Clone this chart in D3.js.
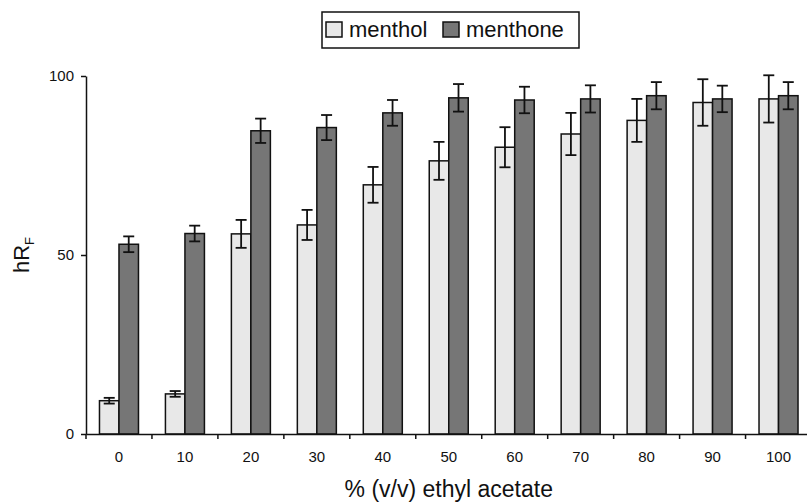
<!DOCTYPE html>
<html>
<head>
<meta charset="utf-8">
<script src="https://cdn.jsdelivr.net/npm/d3@7"></script>
<style>
  body { margin: 0; background: #fff; }
  text { font-family: "Liberation Sans", Arial, sans-serif; fill: #111; }
</style>
</head>
<body>
<div id="chart"></div>
<script>
// data
var categories = ["0", "10", "20", "30", "40", "50", "60", "70", "80", "90", "100"];
var series = ["menthol", "menthone"];
var menthol = [9.3, 11.2, 55.9, 58.4, 69.6, 76.3, 80.1, 83.8, 87.6, 92.6, 93.6];
var mentholErr = [0.8, 0.8, 3.9, 4.2, 5.0, 5.3, 5.6, 5.9, 6.0, 6.5, 6.6];
var menthone = [53.0, 56.0, 84.7, 85.6, 89.7, 93.9, 93.3, 93.6, 94.5, 93.6, 94.5];
var menthoneErr = [2.2, 2.2, 3.4, 3.5, 3.6, 3.85, 3.7, 3.8, 3.8, 3.7, 3.8];
var yTicks = [0, 50, 100];

var colors = {menthol: "#e8e8e8", menthone: "#767676"};

var width = 807, height = 502;
var plotLeft = 86, plotRight = 811.5, plotTop = 76, plotBottom = 434;

var svg = d3.select("#chart")
    .append("svg")
    .attr("width", width)
    .attr("height", height);

var x = d3.scaleBand()
    .domain(categories)
    .range([plotLeft, plotRight])
    .padding(0);

var groupW = 39;
var x1 = d3.scaleBand()
    .domain(series)
    .range([(x.bandwidth() - groupW) / 2, (x.bandwidth() + groupW) / 2]);

var y = d3.scaleLinear()
    .domain([0, 100])
    .range([plotBottom, plotTop]);

// rows for each bar
var rows = [];
categories.forEach(function (c, i) {
    rows.push({cat: c, key: "menthol", v: menthol[i], e: mentholErr[i]});
    rows.push({cat: c, key: "menthone", v: menthone[i], e: menthoneErr[i]});
});

// bars
svg.append("g")
    .selectAll("rect")
    .data(rows)
    .enter().append("rect")
    .attr("x", d => x(d.cat) + x1(d.key))
    .attr("y", d => y(d.v))
    .attr("width", x1.bandwidth())
    .attr("height", d => y(0) - y(d.v))
    .attr("fill", d => colors[d.key])
    .attr("stroke", "#111")
    .attr("stroke-width", 1.5);

// error bars
var capW = 11;
var err = svg.append("g")
    .attr("stroke", "#111")
    .attr("stroke-width", 1.8)
    .selectAll("g")
    .data(rows)
    .enter().append("g")
    .attr("transform", d => "translate(" + (x(d.cat) + x1(d.key) + x1.bandwidth() / 2) + ",0)");

err.append("line")
    .attr("y1", d => y(d.v + d.e))
    .attr("y2", d => y(d.v - d.e));
err.append("line")
    .attr("x1", -capW / 2).attr("x2", capW / 2)
    .attr("y1", d => y(d.v + d.e)).attr("y2", d => y(d.v + d.e));
err.append("line")
    .attr("x1", -capW / 2).attr("x2", capW / 2)
    .attr("y1", d => y(d.v - d.e)).attr("y2", d => y(d.v - d.e));

// y axis
var yAxis = svg.append("g")
    .attr("transform", "translate(" + plotLeft + ",0)")
    .call(d3.axisLeft(y).tickValues(yTicks).tickSize(5).tickSizeOuter(0).tickPadding(7));
yAxis.select(".domain").attr("stroke", "#111").attr("stroke-width", 1.5);
yAxis.selectAll(".tick line").attr("stroke", "#111").attr("stroke-width", 1.5);
yAxis.selectAll("text").style("font-size", "15px").attr("fill", "#111");

// x axis, labels centred in the bands
var xAxis = svg.append("g")
    .attr("transform", "translate(0," + plotBottom + ")")
    .call(d3.axisBottom(x).tickSize(0).tickSizeOuter(0).tickPadding(17));
xAxis.select(".domain").attr("stroke", "#111").attr("stroke-width", 1.5);
xAxis.selectAll("text").style("font-size", "15px").attr("fill", "#111");

// tick marks between categories
xAxis.selectAll(".sep")
    .data(categories)
    .enter().append("line")
    .attr("class", "sep")
    .attr("x1", d => x(d)).attr("x2", d => x(d))
    .attr("y1", 0).attr("y2", 5)
    .attr("stroke", "#111")
    .attr("stroke-width", 1.5);

// axis titles
svg.append("text")
    .attr("x", (plotLeft + plotRight) / 2)
    .attr("y", 497)
    .attr("text-anchor", "middle")
    .style("font-size", "23px")
    .text("% (v/v) ethyl acetate");

var yTitle = svg.append("text")
    .attr("transform", "translate(29," + ((plotTop + plotBottom) / 2) + ") rotate(-90)")
    .attr("text-anchor", "middle")
    .style("font-size", "22px");
yTitle.append("tspan").text("hR");
yTitle.append("tspan").attr("dy", 5).style("font-size", "13px").text("F");

// legend
var legend = svg.append("g");
legend.append("rect")
    .attr("x", 322).attr("y", 12)
    .attr("width", 257).attr("height", 36)
    .attr("fill", "#fff")
    .attr("stroke", "#111")
    .attr("stroke-width", 1.5);

var legendX = [326, 443];
var item = legend.selectAll(".item")
    .data(series)
    .enter().append("g")
    .attr("class", "item")
    .attr("transform", (d, i) => "translate(" + legendX[i] + ",0)");
item.append("rect")
    .attr("y", 22).attr("width", 16).attr("height", 15)
    .attr("fill", d => colors[d])
    .attr("stroke", "#111")
    .attr("stroke-width", 1.5);
item.append("text")
    .attr("x", 23).attr("y", 37)
    .style("font-size", "22px")
    .text(d => d);
</script>
</body>
</html>
